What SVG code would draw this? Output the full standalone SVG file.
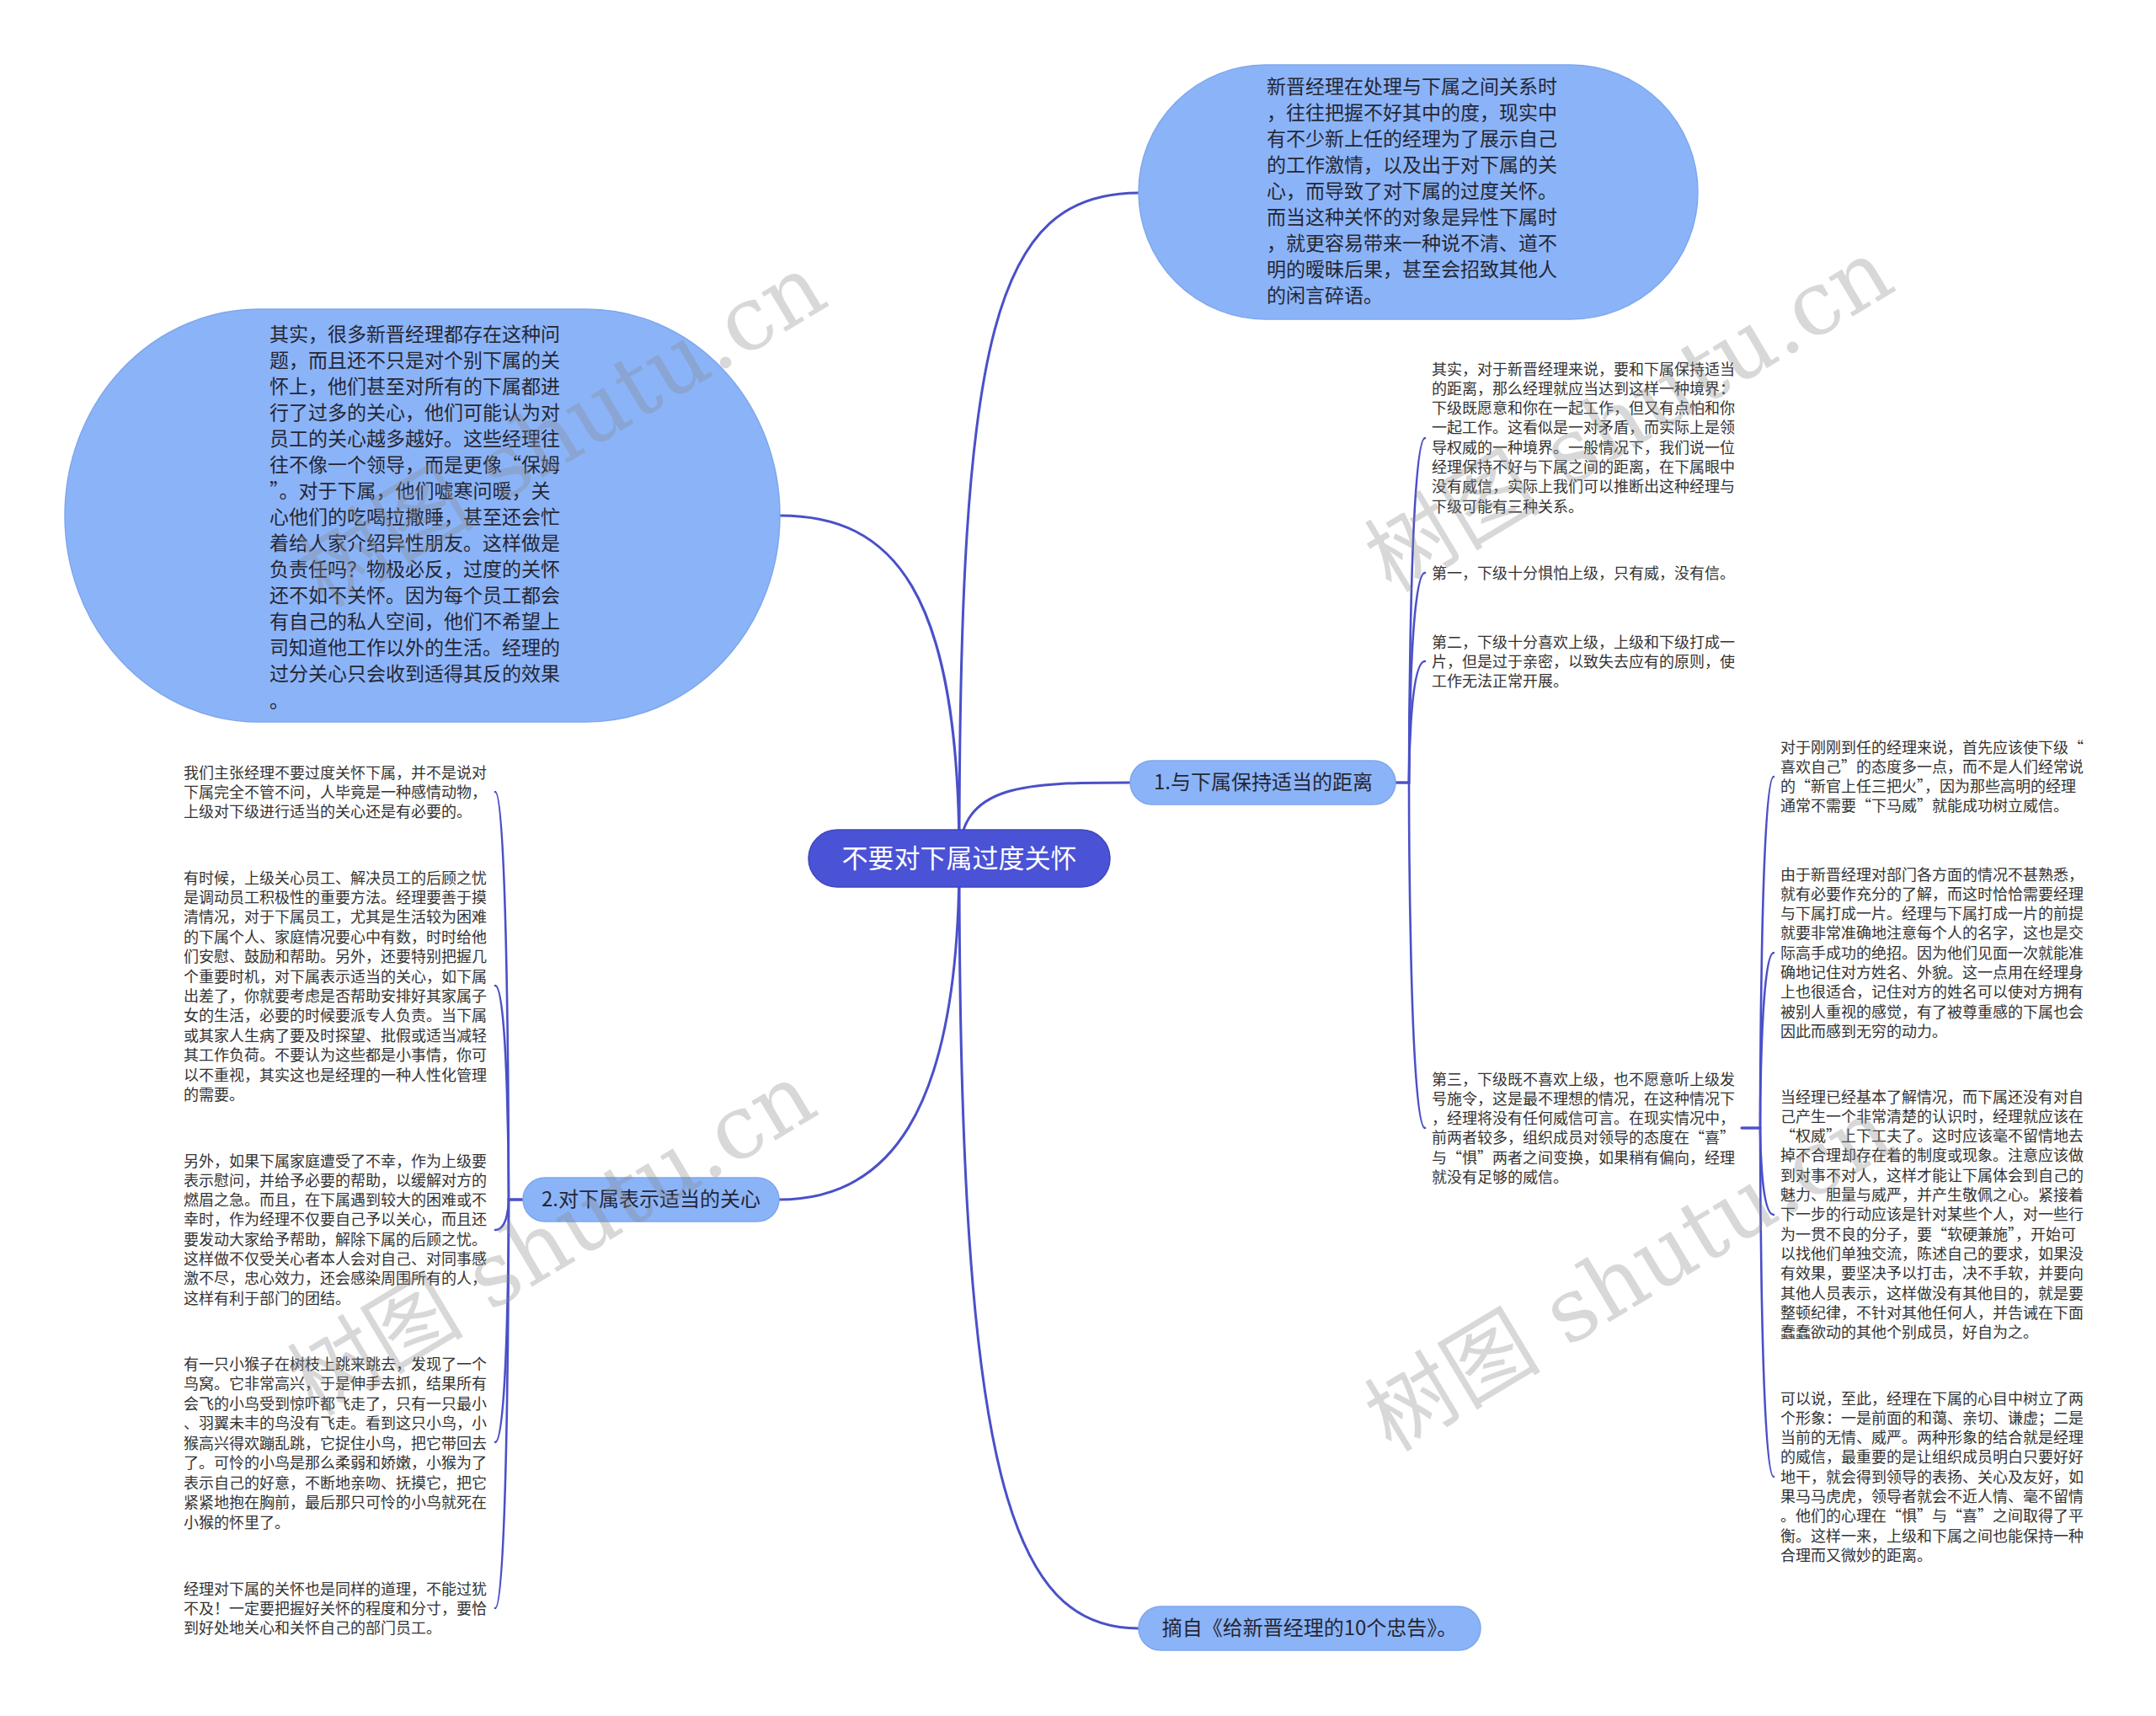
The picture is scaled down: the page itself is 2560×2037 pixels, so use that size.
<svg xmlns="http://www.w3.org/2000/svg" width="2560" height="2037" viewBox="0 0 2560 2037">
<style>
text{font-family:"Noto Sans CJK SC","Noto Sans",sans-serif;}
.bg{fill:#ffffff;}
.conn path{fill:none;stroke:#4a50c8;stroke-width:3;stroke-linecap:round;}
.conn path.sub{stroke-width:2.6;}
.bubble{fill:#8bb4f8;stroke:#7ea6ee;stroke-width:1.5;}
.branch{fill:#8bb4f8;stroke:#7ea6ee;stroke-width:1.5;}
.root{fill:#4a52d6;stroke:#3f46c0;stroke-width:1.5;}
.tb{font-size:23px;fill:#262633;}
.tbr{font-size:24px;fill:#262633;text-anchor:middle;}
.troot{font-size:31px;fill:#ffffff;text-anchor:middle;}
.tc{font-size:18px;fill:#333333;}
.wm{font-family:"DejaVu Serif","Noto Sans CJK SC",serif;font-size:105px;fill:#888888;fill-opacity:0.33;text-anchor:middle;}
</style>
<rect class="bg" x="0" y="0" width="2560" height="2037"/>

<g id="connectors" class="conn">
  <path d="M1139,1019 C1139,400 1180,229 1352,229"/>
  <path d="M1139,1019 C1139,700 1060,612 926,612"/>
  <path d="M1139,1019 C1139,929 1220,929 1342,929"/>
  <path d="M1139,1019 C1139,1330 1050,1424 925,1424"/>
  <path d="M1139,1019 C1139,1750 1200,1933 1352,1933"/>
  <path class="sub" d="M1657,929 H1673 C1673,929 1673,520 1692,520"/>
  <path class="sub" d="M1657,929 H1673 C1673,929 1673,680 1692,680"/>
  <path class="sub" d="M1657,929 H1673 C1673,929 1673,785 1692,785"/>
  <path class="sub" d="M1657,929 H1673 C1673,929 1673,1339 1692,1339"/>
  <path class="sub" d="M2068,1339 H2090 C2090,1339 2090,922 2106,922"/>
  <path class="sub" d="M2068,1339 H2090 C2090,1339 2090,1131 2106,1131"/>
  <path class="sub" d="M2068,1339 H2090 C2090,1339 2090,1442 2106,1442"/>
  <path class="sub" d="M2068,1339 H2090 C2090,1339 2090,1753 2106,1753"/>
  <path class="sub" d="M621,1424 H604 C604,1424 604,940 588,940"/>
  <path class="sub" d="M621,1424 H604 C604,1424 604,1170 588,1170"/>
  <path class="sub" d="M621,1424 H604 C604,1424 604,1460 588,1460"/>
  <path class="sub" d="M621,1424 H604 C604,1424 604,1712 588,1712"/>
  <path class="sub" d="M621,1424 H604 C604,1424 604,1909 588,1909"/>
</g>

<g id="root">
  <rect class="root" x="960" y="985" width="358" height="68" rx="34" ry="34"/>
  <text class="troot" x="1139" y="1030">不要对下属过度关怀</text>
</g>

<g id="bubble-top">
  <rect class="bubble" x="1352" y="77" width="664" height="302" rx="151" ry="151"/>
  <text class="tb" x="1504" y="111">
    <tspan x="1504" dy="0">新晋经理在处理与下属之间关系时</tspan>
    <tspan x="1504" dy="31">，往往把握不好其中的度，现实中</tspan>
    <tspan x="1504" dy="31">有不少新上任的经理为了展示自己</tspan>
    <tspan x="1504" dy="31">的工作激情，以及出于对下属的关</tspan>
    <tspan x="1504" dy="31">心，而导致了对下属的过度关怀。</tspan>
    <tspan x="1504" dy="31">而当这种关怀的对象是异性下属时</tspan>
    <tspan x="1504" dy="31">，就更容易带来一种说不清、道不</tspan>
    <tspan x="1504" dy="31">明的暧昧后果，甚至会招致其他人</tspan>
    <tspan x="1504" dy="31">的闲言碎语。</tspan>
  </text>
</g>

<g id="bubble-left">
  <rect class="bubble" x="77" y="367" width="849" height="490" rx="230" ry="245"/>
  <text class="tb" x="320" y="405">
    <tspan x="320" dy="0">其实，很多新晋经理都存在这种问</tspan>
    <tspan x="320" dy="31">题，而且还不只是对个别下属的关</tspan>
    <tspan x="320" dy="31">怀上，他们甚至对所有的下属都进</tspan>
    <tspan x="320" dy="31">行了过多的关心，他们可能认为对</tspan>
    <tspan x="320" dy="31">员工的关心越多越好。这些经理往</tspan>
    <tspan x="320" dy="31">往不像一个领导，而是更像“保姆</tspan>
    <tspan x="320" dy="31">”。对于下属，他们嘘寒问暖，关</tspan>
    <tspan x="320" dy="31">心他们的吃喝拉撒睡，甚至还会忙</tspan>
    <tspan x="320" dy="31">着给人家介绍异性朋友。这样做是</tspan>
    <tspan x="320" dy="31">负责任吗？物极必反，过度的关怀</tspan>
    <tspan x="320" dy="31">还不如不关怀。因为每个员工都会</tspan>
    <tspan x="320" dy="31">有自己的私人空间，他们不希望上</tspan>
    <tspan x="320" dy="31">司知道他工作以外的生活。经理的</tspan>
    <tspan x="320" dy="31">过分关心只会收到适得其反的效果</tspan>
    <tspan x="320" dy="32">。</tspan>
  </text>
</g>

<g id="branch1">
  <rect class="branch" x="1342" y="903" width="315" height="52" rx="26" ry="26"/>
  <text class="tbr" x="1500" y="937">1.与下属保持适当的距离</text>
</g>

<g id="branch2">
  <rect class="branch" x="621" y="1398" width="304" height="52" rx="26" ry="26"/>
  <text class="tbr" x="773" y="1432">2.对下属表示适当的关心</text>
</g>

<g id="branch3">
  <rect class="branch" x="1352" y="1907" width="406" height="52" rx="26" ry="26"/>
  <text class="tbr" x="1555" y="1941">摘自《给新晋经理的10个忠告》。</text>
</g>

<g id="b1-child1">
  <text class="tc" x="1700" y="444.5">
    <tspan x="1700" dy="0">其实，对于新晋经理来说，要和下属保持适当</tspan>
    <tspan x="1700" dy="23.3">的距离，那么经理就应当达到这样一种境界：</tspan>
    <tspan x="1700" dy="23.3">下级既愿意和你在一起工作，但又有点怕和你</tspan>
    <tspan x="1700" dy="23.3">一起工作。这看似是一对矛盾，而实际上是领</tspan>
    <tspan x="1700" dy="23.3">导权威的一种境界。一般情况下，我们说一位</tspan>
    <tspan x="1700" dy="23.3">经理保持不好与下属之间的距离，在下属眼中</tspan>
    <tspan x="1700" dy="23.3">没有威信，实际上我们可以推断出这种经理与</tspan>
    <tspan x="1700" dy="23.3">下级可能有三种关系。</tspan>
  </text>
</g>
<g id="b1-child2">
  <text class="tc" x="1700" y="686.5">第一，下级十分惧怕上级，只有威，没有信。</text>
</g>
<g id="b1-child3">
  <text class="tc" x="1700" y="768.5">
    <tspan x="1700" dy="0">第二，下级十分喜欢上级，上级和下级打成一</tspan>
    <tspan x="1700" dy="23.3">片，但是过于亲密，以致失去应有的原则，使</tspan>
    <tspan x="1700" dy="23.3">工作无法正常开展。</tspan>
  </text>
</g>
<g id="b1-child4">
  <text class="tc" x="1700" y="1287.5">
    <tspan x="1700" dy="0">第三，下级既不喜欢上级，也不愿意听上级发</tspan>
    <tspan x="1700" dy="23.3">号施令，这是最不理想的情况，在这种情况下</tspan>
    <tspan x="1700" dy="23.3">，经理将没有任何威信可言。在现实情况中，</tspan>
    <tspan x="1700" dy="23.3">前两者较多，组织成员对领导的态度在“喜”</tspan>
    <tspan x="1700" dy="23.3">与“惧”两者之间变换，如果稍有偏向，经理</tspan>
    <tspan x="1700" dy="23.3">就没有足够的威信。</tspan>
  </text>
</g>

<g id="c3-child1">
  <text class="tc" x="2114" y="893.5">
    <tspan x="2114" dy="0">对于刚刚到任的经理来说，首先应该使下级“</tspan>
    <tspan x="2114" dy="23.3">喜欢自己”的态度多一点，而不是人们经常说</tspan>
    <tspan x="2114" dy="23.3">的“新官上任三把火”，因为那些高明的经理</tspan>
    <tspan x="2114" dy="23.3">通常不需要“下马威”就能成功树立威信。</tspan>
  </text>
</g>
<g id="c3-child2">
  <text class="tc" x="2114" y="1044.5">
    <tspan x="2114" dy="0">由于新晋经理对部门各方面的情况不甚熟悉，</tspan>
    <tspan x="2114" dy="23.3">就有必要作充分的了解，而这时恰恰需要经理</tspan>
    <tspan x="2114" dy="23.3">与下属打成一片。经理与下属打成一片的前提</tspan>
    <tspan x="2114" dy="23.3">就要非常准确地注意每个人的名字，这也是交</tspan>
    <tspan x="2114" dy="23.3">际高手成功的绝招。因为他们见面一次就能准</tspan>
    <tspan x="2114" dy="23.3">确地记住对方姓名、外貌。这一点用在经理身</tspan>
    <tspan x="2114" dy="23.3">上也很适合，记住对方的姓名可以使对方拥有</tspan>
    <tspan x="2114" dy="23.3">被别人重视的感觉，有了被尊重感的下属也会</tspan>
    <tspan x="2114" dy="23.3">因此而感到无穷的动力。</tspan>
  </text>
</g>
<g id="c3-child3">
  <text class="tc" x="2114" y="1308.5">
    <tspan x="2114" dy="0">当经理已经基本了解情况，而下属还没有对自</tspan>
    <tspan x="2114" dy="23.3">己产生一个非常清楚的认识时，经理就应该在</tspan>
    <tspan x="2114" dy="23.3">“权威”上下工夫了。这时应该毫不留情地去</tspan>
    <tspan x="2114" dy="23.3">掉不合理却存在着的制度或现象。注意应该做</tspan>
    <tspan x="2114" dy="23.3">到对事不对人，这样才能让下属体会到自己的</tspan>
    <tspan x="2114" dy="23.3">魅力、胆量与威严，并产生敬佩之心。紧接着</tspan>
    <tspan x="2114" dy="23.3">下一步的行动应该是针对某些个人，对一些行</tspan>
    <tspan x="2114" dy="23.3">为一贯不良的分子，要“软硬兼施”，开始可</tspan>
    <tspan x="2114" dy="23.3">以找他们单独交流，陈述自己的要求，如果没</tspan>
    <tspan x="2114" dy="23.3">有效果，要坚决予以打击，决不手软，并要向</tspan>
    <tspan x="2114" dy="23.3">其他人员表示，这样做没有其他目的，就是要</tspan>
    <tspan x="2114" dy="23.3">整顿纪律，不针对其他任何人，并告诫在下面</tspan>
    <tspan x="2114" dy="23.3">蠢蠢欲动的其他个别成员，好自为之。</tspan>
  </text>
</g>
<g id="c3-child4">
  <text class="tc" x="2114" y="1666.5">
    <tspan x="2114" dy="0">可以说，至此，经理在下属的心目中树立了两</tspan>
    <tspan x="2114" dy="23.3">个形象：一是前面的和蔼、亲切、谦虚；二是</tspan>
    <tspan x="2114" dy="23.3">当前的无情、威严。两种形象的结合就是经理</tspan>
    <tspan x="2114" dy="23.3">的威信，最重要的是让组织成员明白只要好好</tspan>
    <tspan x="2114" dy="23.3">地干，就会得到领导的表扬、关心及友好，如</tspan>
    <tspan x="2114" dy="23.3">果马马虎虎，领导者就会不近人情、毫不留情</tspan>
    <tspan x="2114" dy="23.3">。他们的心理在“惧”与“喜”之间取得了平</tspan>
    <tspan x="2114" dy="23.3">衡。这样一来，上级和下属之间也能保持一种</tspan>
    <tspan x="2114" dy="23.3">合理而又微妙的距离。</tspan>
  </text>
</g>

<g id="b2-child1">
  <text class="tc" x="218" y="923.5">
    <tspan x="218" dy="0">我们主张经理不要过度关怀下属，并不是说对</tspan>
    <tspan x="218" dy="23.3">下属完全不管不问，人毕竟是一种感情动物，</tspan>
    <tspan x="218" dy="23.3">上级对下级进行适当的关心还是有必要的。</tspan>
  </text>
</g>
<g id="b2-child2">
  <text class="tc" x="218" y="1048.5">
    <tspan x="218" dy="0">有时候，上级关心员工、解决员工的后顾之忧</tspan>
    <tspan x="218" dy="23.4">是调动员工积极性的重要方法。经理要善于摸</tspan>
    <tspan x="218" dy="23.4">清情况，对于下属员工，尤其是生活较为困难</tspan>
    <tspan x="218" dy="23.4">的下属个人、家庭情况要心中有数，时时给他</tspan>
    <tspan x="218" dy="23.4">们安慰、鼓励和帮助。另外，还要特别把握几</tspan>
    <tspan x="218" dy="23.4">个重要时机，对下属表示适当的关心，如下属</tspan>
    <tspan x="218" dy="23.4">出差了，你就要考虑是否帮助安排好其家属子</tspan>
    <tspan x="218" dy="23.4">女的生活，必要的时候要派专人负责。当下属</tspan>
    <tspan x="218" dy="23.4">或其家人生病了要及时探望、批假或适当减轻</tspan>
    <tspan x="218" dy="23.4">其工作负荷。不要认为这些都是小事情，你可</tspan>
    <tspan x="218" dy="23.4">以不重视，其实这也是经理的一种人性化管理</tspan>
    <tspan x="218" dy="23.4">的需要。</tspan>
  </text>
</g>
<g id="b2-child3">
  <text class="tc" x="218" y="1384.5">
    <tspan x="218" dy="0">另外，如果下属家庭遭受了不幸，作为上级要</tspan>
    <tspan x="218" dy="23.3">表示慰问，并给予必要的帮助，以缓解对方的</tspan>
    <tspan x="218" dy="23.3">燃眉之急。而且，在下属遇到较大的困难或不</tspan>
    <tspan x="218" dy="23.3">幸时，作为经理不仅要自己予以关心，而且还</tspan>
    <tspan x="218" dy="23.3">要发动大家给予帮助，解除下属的后顾之忧。</tspan>
    <tspan x="218" dy="23.3">这样做不仅受关心者本人会对自己、对同事感</tspan>
    <tspan x="218" dy="23.3">激不尽，忠心效力，还会感染周围所有的人，</tspan>
    <tspan x="218" dy="23.3">这样有利于部门的团结。</tspan>
  </text>
</g>
<g id="b2-child4">
  <text class="tc" x="218" y="1625.5">
    <tspan x="218" dy="0">有一只小猴子在树枝上跳来跳去，发现了一个</tspan>
    <tspan x="218" dy="23.5">鸟窝。它非常高兴，于是伸手去抓，结果所有</tspan>
    <tspan x="218" dy="23.5">会飞的小鸟受到惊吓都飞走了，只有一只最小</tspan>
    <tspan x="218" dy="23.5">、羽翼未丰的鸟没有飞走。看到这只小鸟，小</tspan>
    <tspan x="218" dy="23.5">猴高兴得欢蹦乱跳，它捉住小鸟，把它带回去</tspan>
    <tspan x="218" dy="23.5">了。可怜的小鸟是那么柔弱和娇嫩，小猴为了</tspan>
    <tspan x="218" dy="23.5">表示自己的好意，不断地亲吻、抚摸它，把它</tspan>
    <tspan x="218" dy="23.5">紧紧地抱在胸前，最后那只可怜的小鸟就死在</tspan>
    <tspan x="218" dy="23.5">小猴的怀里了。</tspan>
  </text>
</g>
<g id="b2-child5">
  <text class="tc" x="218" y="1892.5">
    <tspan x="218" dy="0">经理对下属的关怀也是同样的道理，不能过犹</tspan>
    <tspan x="218" dy="23.3">不及！一定要把握好关怀的程度和分寸，要恰</tspan>
    <tspan x="218" dy="23.3">到好处地关心和关怀自己的部门员工。</tspan>
  </text>
</g>

<g id="watermarks">
  <text class="wm" transform="translate(668,512) rotate(-31)" x="0" y="35">树图 shutu.cn</text>
  <text class="wm" transform="translate(1935,494) rotate(-31)" x="0" y="35">树图 shutu.cn</text>
  <text class="wm" transform="translate(656,1472) rotate(-31)" x="0" y="35">树图 shutu.cn</text>
  <text class="wm" transform="translate(1935,1514) rotate(-31)" x="0" y="35">树图 shutu.cn</text>
</g>
</svg>
